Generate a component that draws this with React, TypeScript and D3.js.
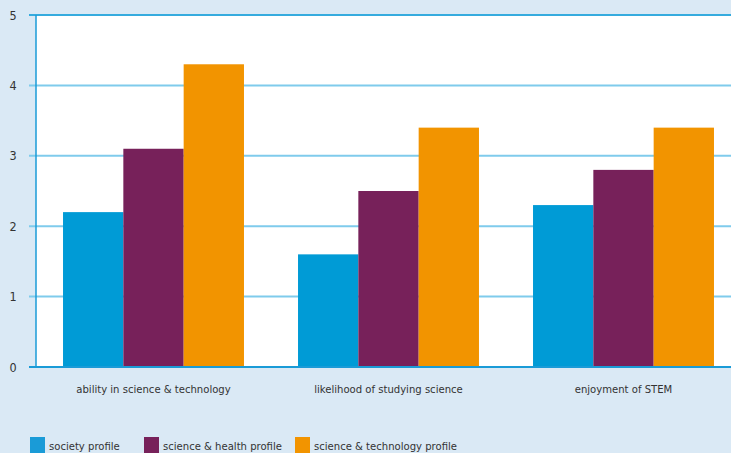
import React from "react";
import * as d3 from "d3";

const categories = ["ability in science & technology", "likelihood of studying science", "enjoyment of STEM"];
const seriesNames = ["society profile", "science & health profile", "science & technology profile"];
const seriesColors = ["#009bd6", "#77215a", "#f29400"];
const societyValues = [2.2, 1.6, 2.3];
const healthValues = [3.1, 2.5, 2.8];
const techValues = [4.3, 3.4, 3.4];
const yTicks = [0, 1, 2, 3, 4, 5];

const W = 731, H = 453;
const left = 36, top = 15, bottom = 367;
const FONT = "'Liberation Sans Narrow', 'DejaVu Sans Condensed', 'Open Sans', sans-serif";

export default function App() {
  const series = [societyValues, healthValues, techValues];
  const x = d3.scaleBand<string>().domain(categories).range([left, left + 3 * 235]).paddingInner(0.23).paddingOuter(0.115);
  const xs = d3.scaleBand<number>().domain([0, 1, 2]).range([0, x.bandwidth()]);
  const y = d3.scaleLinear().domain([0, 5]).range([bottom, top]);
  return (
    <svg width={W} height={H} style={{ position: "absolute", left: 0, top: 0, display: "block" }}>
      <rect x={0} y={0} width={W} height={H} fill="#dae9f5" />
      <rect x={left} y={top} width={W - left} height={bottom - top} fill="#ffffff" />
      {yTicks.filter(t => t > 0 && t < 5).map(t => (
        <line key={t} x1={29} x2={W} y1={y(t)} y2={y(t)} stroke="#7fcbec" strokeWidth={2} />
      ))}
      <line x1={29} x2={W} y1={y(5)} y2={y(5)} stroke="#35abde" strokeWidth={2} />
      {categories.map((c, ci) => series.map((s, si) => (
        <rect key={c + si} x={(x(c) as number) + (xs(si) as number)} y={y(s[ci])} width={xs.bandwidth()} height={bottom - y(s[ci])} fill={seriesColors[si]} />
      )))}
      <line x1={left} x2={left} y1={top} y2={bottom} stroke="#1a9bd7" strokeWidth={1.5} />
      <line x1={29} x2={W} y1={bottom} y2={bottom} stroke="#1a9bd7" strokeWidth={2} />
      {yTicks.map(t => (
        <text key={t} x={13} y={y(t) + 4.5} fontFamily={FONT} fontSize={12.5} fill="#333" textAnchor="middle">{t}</text>
      ))}
      {categories.map(c => (
        <text key={c} x={(x(c) as number) + x.bandwidth() / 2} y={393} fontFamily={FONT} fontSize={11.2} fill="#333" textAnchor="middle">{c}</text>
      ))}
      {seriesNames.map((n, i) => {
        const lx = [30, 144, 295][i];
        return (
          <g key={n}>
            <rect x={lx} y={437} width={15} height={16} fill={seriesColors[i] === "#009bd6" ? "#1a9bd7" : seriesColors[i]} />
            <text x={lx + 19} y={450} fontFamily={FONT} fontSize={11.2} fill="#333">{n}</text>
          </g>
        );
      })}
    </svg>
  );
}
